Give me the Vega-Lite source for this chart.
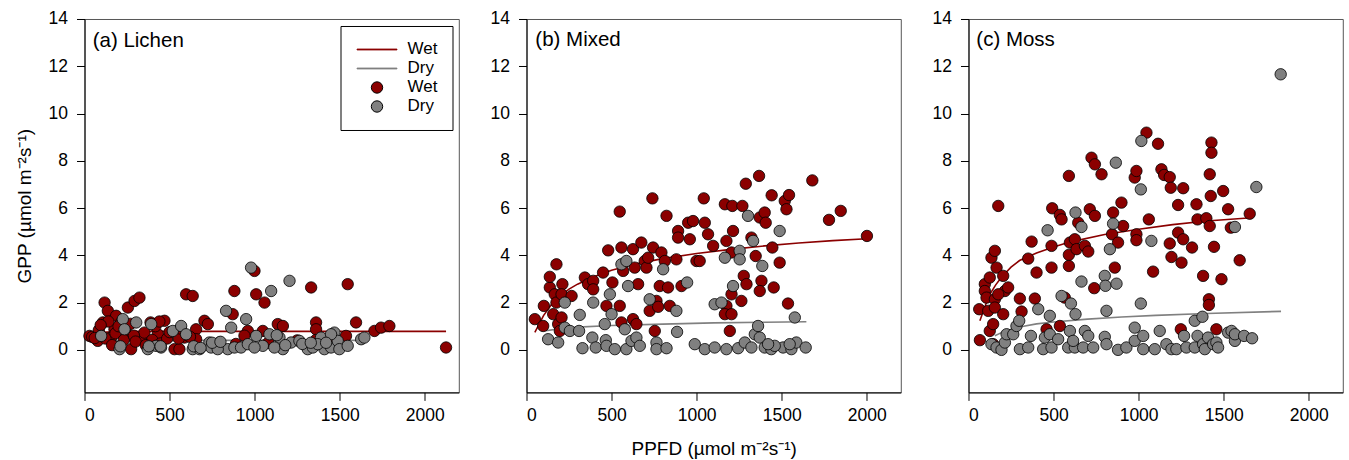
{
"$schema": "https://vega.github.io/schema/vega-lite/v6.json",
"padding": {"left": 14.5, "top": 9, "right": 0, "bottom": 0},
"spacing": 30,
"config": {
  "font": "Liberation Sans",
  "view": {"stroke": "#555", "strokeWidth": 1},
  "axis": {"grid": false, "domainColor": "black", "tickColor": "black", "labelColor": "black", "titleColor": "black", "labelFont": "Liberation Sans", "titleFont": "Liberation Sans", "labelFontSize": 17.5, "titleFontSize": 19, "titleFontWeight": "normal", "tickSize": 8, "format": "d"},
  "axisY": {"labelPadding": 9, "titlePadding": 14},
  "axisX": {"labelPadding": 6, "titlePadding": 16},
  "legend": {"title": null, "orient": "none", "legendX": 256, "legendY": 7, "strokeColor": "black", "fillColor": "white", "padding": 15, "labelFontSize": 17, "labelFont": "Liberation Sans", "labelColor": "black", "symbolSize": 130, "symbolOffset": 13, "labelOffset": 22, "rowPadding": 1, "symbolStrokeWidth": 1}
},
"datasets": {
"pts": [
{"panel":"a","key":"Wet","ppfd":29,"gpp":0.59},{"panel":"a","key":"Wet","ppfd":118,"gpp":2.0},{"panel":"a","key":"Wet","ppfd":137,"gpp":1.65},{"panel":"a","key":"Wet","ppfd":108,"gpp":1.16},{"panel":"a","key":"Wet","ppfd":78,"gpp":0.38},{"panel":"a","key":"Wet","ppfd":157,"gpp":0.52},{"panel":"a","key":"Wet","ppfd":186,"gpp":1.44},{"panel":"a","key":"Wet","ppfd":215,"gpp":1.16},{"panel":"a","key":"Wet","ppfd":255,"gpp":1.79},{"panel":"a","key":"Wet","ppfd":294,"gpp":2.07},{"panel":"a","key":"Wet","ppfd":323,"gpp":2.21},{"panel":"a","key":"Wet","ppfd":274,"gpp":0.03},{"panel":"a","key":"Wet","ppfd":333,"gpp":0.45},{"panel":"a","key":"Wet","ppfd":176,"gpp":0.87},{"panel":"a","key":"Wet","ppfd":235,"gpp":0.66},{"panel":"a","key":"Wet","ppfd":352,"gpp":0.73},{"panel":"a","key":"Wet","ppfd":411,"gpp":1.09},{"panel":"a","key":"Wet","ppfd":470,"gpp":1.23},{"panel":"a","key":"Wet","ppfd":431,"gpp":0.66},{"panel":"a","key":"Wet","ppfd":529,"gpp":0.03},{"panel":"a","key":"Wet","ppfd":558,"gpp":0.03},{"panel":"a","key":"Wet","ppfd":587,"gpp":0.52},{"panel":"a","key":"Wet","ppfd":597,"gpp":2.35},{"panel":"a","key":"Wet","ppfd":636,"gpp":2.28},{"panel":"a","key":"Wet","ppfd":656,"gpp":0.87},{"panel":"a","key":"Wet","ppfd":656,"gpp":0.45},{"panel":"a","key":"Wet","ppfd":705,"gpp":1.23},{"panel":"a","key":"Wet","ppfd":725,"gpp":1.09},{"panel":"a","key":"Wet","ppfd":871,"gpp":1.51},{"panel":"a","key":"Wet","ppfd":881,"gpp":2.49},{"panel":"a","key":"Wet","ppfd":960,"gpp":0.8},{"panel":"a","key":"Wet","ppfd":999,"gpp":3.34},{"panel":"a","key":"Wet","ppfd":1009,"gpp":2.35},{"panel":"a","key":"Wet","ppfd":1058,"gpp":2.0},{"panel":"a","key":"Wet","ppfd":1048,"gpp":0.8},{"panel":"a","key":"Wet","ppfd":1136,"gpp":1.09},{"panel":"a","key":"Wet","ppfd":1166,"gpp":1.01},{"panel":"a","key":"Wet","ppfd":1332,"gpp":2.64},{"panel":"a","key":"Wet","ppfd":1361,"gpp":1.16},{"panel":"a","key":"Wet","ppfd":1361,"gpp":0.87},{"panel":"a","key":"Wet","ppfd":1537,"gpp":0.59},{"panel":"a","key":"Wet","ppfd":1547,"gpp":2.78},{"panel":"a","key":"Wet","ppfd":1596,"gpp":1.16},{"panel":"a","key":"Wet","ppfd":1704,"gpp":0.8},{"panel":"a","key":"Wet","ppfd":1743,"gpp":0.94},{"panel":"a","key":"Wet","ppfd":1792,"gpp":1.01},{"panel":"a","key":"Wet","ppfd":2125,"gpp":0.1},{"panel":"a","key":"Wet","ppfd":45,"gpp":0.55},{"panel":"a","key":"Wet","ppfd":84,"gpp":0.83},{"panel":"a","key":"Wet","ppfd":123,"gpp":0.48},{"panel":"a","key":"Wet","ppfd":162,"gpp":0.2},{"panel":"a","key":"Wet","ppfd":182,"gpp":0.7},{"panel":"a","key":"Wet","ppfd":231,"gpp":0.42},{"panel":"a","key":"Wet","ppfd":241,"gpp":0.9},{"panel":"a","key":"Wet","ppfd":290,"gpp":0.6},{"panel":"a","key":"Wet","ppfd":388,"gpp":1.16},{"panel":"a","key":"Wet","ppfd":398,"gpp":0.42},{"panel":"a","key":"Wet","ppfd":417,"gpp":1.0},{"panel":"a","key":"Wet","ppfd":447,"gpp":0.27},{"panel":"a","key":"Wet","ppfd":486,"gpp":0.48},{"panel":"a","key":"Wet","ppfd":554,"gpp":0.48},{"panel":"a","key":"Wet","ppfd":564,"gpp":0.9},{"panel":"a","key":"Wet","ppfd":200,"gpp":1.0},{"panel":"a","key":"Wet","ppfd":140,"gpp":1.2},{"panel":"a","key":"Wet","ppfd":60,"gpp":0.5},{"panel":"a","key":"Wet","ppfd":95,"gpp":1.05},{"panel":"a","key":"Wet","ppfd":270,"gpp":1.1},{"panel":"a","key":"Wet","ppfd":300,"gpp":0.35},{"panel":"a","key":"Wet","ppfd":360,"gpp":0.2},{"panel":"a","key":"Wet","ppfd":440,"gpp":1.2},{"panel":"a","key":"Wet","ppfd":500,"gpp":0.75},{"panel":"a","key":"Wet","ppfd":620,"gpp":0.55},{"panel":"a","key":"Wet","ppfd":890,"gpp":0.25},{"panel":"a","key":"Wet","ppfd":1080,"gpp":0.3},{"panel":"a","key":"Wet","ppfd":1250,"gpp":0.4},{"panel":"a","key":"Wet","ppfd":1450,"gpp":0.5},{"panel":"a","key":"Wet","ppfd":1360,"gpp":0.42},{"panel":"a","key":"Wet","ppfd":940,"gpp":0.6},
{"panel":"a","key":"Dry","ppfd":98,"gpp":0.59},{"panel":"a","key":"Dry","ppfd":206,"gpp":0.03},{"panel":"a","key":"Dry","ppfd":225,"gpp":1.3},{"panel":"a","key":"Dry","ppfd":235,"gpp":0.87},{"panel":"a","key":"Dry","ppfd":304,"gpp":1.16},{"panel":"a","key":"Dry","ppfd":372,"gpp":0.03},{"panel":"a","key":"Dry","ppfd":392,"gpp":1.09},{"panel":"a","key":"Dry","ppfd":421,"gpp":0.17},{"panel":"a","key":"Dry","ppfd":450,"gpp":0.1},{"panel":"a","key":"Dry","ppfd":519,"gpp":0.8},{"panel":"a","key":"Dry","ppfd":568,"gpp":1.01},{"panel":"a","key":"Dry","ppfd":597,"gpp":0.66},{"panel":"a","key":"Dry","ppfd":636,"gpp":0.03},{"panel":"a","key":"Dry","ppfd":676,"gpp":0.03},{"panel":"a","key":"Dry","ppfd":734,"gpp":0.31},{"panel":"a","key":"Dry","ppfd":793,"gpp":0.31},{"panel":"a","key":"Dry","ppfd":832,"gpp":1.65},{"panel":"a","key":"Dry","ppfd":862,"gpp":0.94},{"panel":"a","key":"Dry","ppfd":842,"gpp":0.03},{"panel":"a","key":"Dry","ppfd":881,"gpp":0.1},{"panel":"a","key":"Dry","ppfd":920,"gpp":0.1},{"panel":"a","key":"Dry","ppfd":950,"gpp":1.3},{"panel":"a","key":"Dry","ppfd":979,"gpp":3.48},{"panel":"a","key":"Dry","ppfd":1009,"gpp":0.59},{"panel":"a","key":"Dry","ppfd":1048,"gpp":0.17},{"panel":"a","key":"Dry","ppfd":1087,"gpp":0.66},{"panel":"a","key":"Dry","ppfd":1097,"gpp":2.49},{"panel":"a","key":"Dry","ppfd":1146,"gpp":0.52},{"panel":"a","key":"Dry","ppfd":1166,"gpp":0.03},{"panel":"a","key":"Dry","ppfd":1205,"gpp":2.92},{"panel":"a","key":"Dry","ppfd":1214,"gpp":0.31},{"panel":"a","key":"Dry","ppfd":1263,"gpp":0.38},{"panel":"a","key":"Dry","ppfd":1302,"gpp":0.17},{"panel":"a","key":"Dry","ppfd":1312,"gpp":0.03},{"panel":"a","key":"Dry","ppfd":1342,"gpp":0.1},{"panel":"a","key":"Dry","ppfd":1390,"gpp":0.52},{"panel":"a","key":"Dry","ppfd":1410,"gpp":0.03},{"panel":"a","key":"Dry","ppfd":1449,"gpp":0.1},{"panel":"a","key":"Dry","ppfd":1469,"gpp":0.73},{"panel":"a","key":"Dry","ppfd":1488,"gpp":0.38},{"panel":"a","key":"Dry","ppfd":1498,"gpp":0.03},{"panel":"a","key":"Dry","ppfd":1547,"gpp":0.17},{"panel":"a","key":"Dry","ppfd":1626,"gpp":0.45},{"panel":"a","key":"Dry","ppfd":1645,"gpp":0.52},{"panel":"a","key":"Dry","ppfd":744,"gpp":0.1},{"panel":"a","key":"Dry","ppfd":783,"gpp":0.03},{"panel":"a","key":"Dry","ppfd":960,"gpp":0.24},{"panel":"a","key":"Dry","ppfd":999,"gpp":0.1},{"panel":"a","key":"Dry","ppfd":1116,"gpp":0.1},{"panel":"a","key":"Dry","ppfd":1371,"gpp":0.24},{"panel":"a","key":"Dry","ppfd":1449,"gpp":0.66},{"panel":"a","key":"Dry","ppfd":211,"gpp":0.15},{"panel":"a","key":"Dry","ppfd":378,"gpp":0.15},{"panel":"a","key":"Dry","ppfd":447,"gpp":0.15},{"panel":"a","key":"Dry","ppfd":642,"gpp":0.15},{"panel":"a","key":"Dry","ppfd":682,"gpp":0.08},{"panel":"a","key":"Dry","ppfd":750,"gpp":0.3},{"panel":"a","key":"Dry","ppfd":799,"gpp":0.34},{"panel":"a","key":"Dry","ppfd":1130,"gpp":0.62},{"panel":"a","key":"Dry","ppfd":1280,"gpp":0.25},{"panel":"a","key":"Dry","ppfd":1330,"gpp":0.3},{"panel":"a","key":"Dry","ppfd":1180,"gpp":0.2},{"panel":"a","key":"Dry","ppfd":1420,"gpp":0.3},
{"panel":"b","key":"Wet","ppfd":49,"gpp":1.3},{"panel":"b","key":"Wet","ppfd":98,"gpp":1.01},{"panel":"b","key":"Wet","ppfd":102,"gpp":1.86},{"panel":"b","key":"Wet","ppfd":137,"gpp":2.64},{"panel":"b","key":"Wet","ppfd":137,"gpp":3.09},{"panel":"b","key":"Wet","ppfd":176,"gpp":3.62},{"panel":"b","key":"Wet","ppfd":166,"gpp":2.35},{"panel":"b","key":"Wet","ppfd":157,"gpp":1.51},{"panel":"b","key":"Wet","ppfd":186,"gpp":1.09},{"panel":"b","key":"Wet","ppfd":196,"gpp":0.8},{"panel":"b","key":"Wet","ppfd":206,"gpp":1.37},{"panel":"b","key":"Wet","ppfd":176,"gpp":2.0},{"panel":"b","key":"Wet","ppfd":211,"gpp":2.78},{"panel":"b","key":"Wet","ppfd":206,"gpp":2.35},{"panel":"b","key":"Wet","ppfd":265,"gpp":2.28},{"panel":"b","key":"Wet","ppfd":343,"gpp":3.06},{"panel":"b","key":"Wet","ppfd":362,"gpp":2.78},{"panel":"b","key":"Wet","ppfd":392,"gpp":2.92},{"panel":"b","key":"Wet","ppfd":392,"gpp":2.56},{"panel":"b","key":"Wet","ppfd":450,"gpp":3.27},{"panel":"b","key":"Wet","ppfd":470,"gpp":1.86},{"panel":"b","key":"Wet","ppfd":480,"gpp":4.21},{"panel":"b","key":"Wet","ppfd":505,"gpp":2.85},{"panel":"b","key":"Wet","ppfd":548,"gpp":5.85},{"panel":"b","key":"Wet","ppfd":548,"gpp":1.86},{"panel":"b","key":"Wet","ppfd":558,"gpp":4.33},{"panel":"b","key":"Wet","ppfd":568,"gpp":3.34},{"panel":"b","key":"Wet","ppfd":558,"gpp":1.16},{"panel":"b","key":"Wet","ppfd":626,"gpp":4.26},{"panel":"b","key":"Wet","ppfd":636,"gpp":3.48},{"panel":"b","key":"Wet","ppfd":626,"gpp":1.3},{"panel":"b","key":"Wet","ppfd":646,"gpp":1.09},{"panel":"b","key":"Wet","ppfd":656,"gpp":2.78},{"panel":"b","key":"Wet","ppfd":675,"gpp":4.54},{"panel":"b","key":"Wet","ppfd":695,"gpp":3.76},{"panel":"b","key":"Wet","ppfd":705,"gpp":3.48},{"panel":"b","key":"Wet","ppfd":715,"gpp":3.9},{"panel":"b","key":"Wet","ppfd":740,"gpp":6.41},{"panel":"b","key":"Wet","ppfd":744,"gpp":4.33},{"panel":"b","key":"Wet","ppfd":724,"gpp":1.65},{"panel":"b","key":"Wet","ppfd":754,"gpp":0.8},{"panel":"b","key":"Wet","ppfd":764,"gpp":2.07},{"panel":"b","key":"Wet","ppfd":774,"gpp":1.82},{"panel":"b","key":"Wet","ppfd":783,"gpp":2.7},{"panel":"b","key":"Wet","ppfd":793,"gpp":4.12},{"panel":"b","key":"Wet","ppfd":813,"gpp":3.76},{"panel":"b","key":"Wet","ppfd":823,"gpp":5.67},{"panel":"b","key":"Wet","ppfd":832,"gpp":2.64},{"panel":"b","key":"Wet","ppfd":842,"gpp":1.86},{"panel":"b","key":"Wet","ppfd":881,"gpp":3.83},{"panel":"b","key":"Wet","ppfd":891,"gpp":5.03},{"panel":"b","key":"Wet","ppfd":891,"gpp":4.75},{"panel":"b","key":"Wet","ppfd":911,"gpp":2.7},{"panel":"b","key":"Wet","ppfd":950,"gpp":5.38},{"panel":"b","key":"Wet","ppfd":960,"gpp":4.68},{"panel":"b","key":"Wet","ppfd":979,"gpp":5.45},{"panel":"b","key":"Wet","ppfd":999,"gpp":3.76},{"panel":"b","key":"Wet","ppfd":1018,"gpp":3.76},{"panel":"b","key":"Wet","ppfd":1042,"gpp":6.41},{"panel":"b","key":"Wet","ppfd":1048,"gpp":5.38},{"panel":"b","key":"Wet","ppfd":1067,"gpp":4.89},{"panel":"b","key":"Wet","ppfd":1097,"gpp":4.4},{"panel":"b","key":"Wet","ppfd":1166,"gpp":6.16},{"panel":"b","key":"Wet","ppfd":1175,"gpp":4.61},{"panel":"b","key":"Wet","ppfd":1175,"gpp":1.86},{"panel":"b","key":"Wet","ppfd":1166,"gpp":1.51},{"panel":"b","key":"Wet","ppfd":1195,"gpp":0.8},{"panel":"b","key":"Wet","ppfd":1205,"gpp":1.51},{"panel":"b","key":"Wet","ppfd":1210,"gpp":6.09},{"panel":"b","key":"Wet","ppfd":1214,"gpp":5.03},{"panel":"b","key":"Wet","ppfd":1205,"gpp":4.12},{"panel":"b","key":"Wet","ppfd":1205,"gpp":2.35},{"panel":"b","key":"Wet","ppfd":1263,"gpp":2.07},{"panel":"b","key":"Wet","ppfd":1269,"gpp":6.09},{"panel":"b","key":"Wet","ppfd":1277,"gpp":3.13},{"panel":"b","key":"Wet","ppfd":1289,"gpp":7.03},{"panel":"b","key":"Wet","ppfd":1293,"gpp":2.78},{"panel":"b","key":"Wet","ppfd":1322,"gpp":4.75},{"panel":"b","key":"Wet","ppfd":1347,"gpp":3.97},{"panel":"b","key":"Wet","ppfd":1367,"gpp":7.36},{"panel":"b","key":"Wet","ppfd":1371,"gpp":5.6},{"panel":"b","key":"Wet","ppfd":1381,"gpp":2.92},{"panel":"b","key":"Wet","ppfd":1371,"gpp":2.49},{"panel":"b","key":"Wet","ppfd":1400,"gpp":5.81},{"panel":"b","key":"Wet","ppfd":1406,"gpp":5.38},{"panel":"b","key":"Wet","ppfd":1441,"gpp":6.54},{"panel":"b","key":"Wet","ppfd":1445,"gpp":4.33},{"panel":"b","key":"Wet","ppfd":1453,"gpp":2.64},{"panel":"b","key":"Wet","ppfd":1488,"gpp":3.69},{"panel":"b","key":"Wet","ppfd":1518,"gpp":6.3},{"panel":"b","key":"Wet","ppfd":1528,"gpp":5.95},{"panel":"b","key":"Wet","ppfd":1543,"gpp":6.55},{"panel":"b","key":"Wet","ppfd":1537,"gpp":1.96},{"panel":"b","key":"Wet","ppfd":1680,"gpp":7.17},{"panel":"b","key":"Wet","ppfd":1778,"gpp":5.5},{"panel":"b","key":"Wet","ppfd":1847,"gpp":5.88},{"panel":"b","key":"Wet","ppfd":2001,"gpp":4.82},
{"panel":"b","key":"Dry","ppfd":127,"gpp":0.45},{"panel":"b","key":"Dry","ppfd":186,"gpp":0.31},{"panel":"b","key":"Dry","ppfd":225,"gpp":2.0},{"panel":"b","key":"Dry","ppfd":225,"gpp":0.94},{"panel":"b","key":"Dry","ppfd":255,"gpp":0.8},{"panel":"b","key":"Dry","ppfd":309,"gpp":0.8},{"panel":"b","key":"Dry","ppfd":313,"gpp":1.48},{"panel":"b","key":"Dry","ppfd":329,"gpp":0.07},{"panel":"b","key":"Dry","ppfd":387,"gpp":0.52},{"panel":"b","key":"Dry","ppfd":392,"gpp":2.0},{"panel":"b","key":"Dry","ppfd":407,"gpp":0.1},{"panel":"b","key":"Dry","ppfd":460,"gpp":1.09},{"panel":"b","key":"Dry","ppfd":466,"gpp":0.41},{"panel":"b","key":"Dry","ppfd":470,"gpp":0.17},{"panel":"b","key":"Dry","ppfd":490,"gpp":2.35},{"panel":"b","key":"Dry","ppfd":500,"gpp":1.51},{"panel":"b","key":"Dry","ppfd":519,"gpp":0.03},{"panel":"b","key":"Dry","ppfd":558,"gpp":3.62},{"panel":"b","key":"Dry","ppfd":587,"gpp":3.76},{"panel":"b","key":"Dry","ppfd":578,"gpp":0.87},{"panel":"b","key":"Dry","ppfd":587,"gpp":0.03},{"panel":"b","key":"Dry","ppfd":597,"gpp":2.7},{"panel":"b","key":"Dry","ppfd":617,"gpp":0.38},{"panel":"b","key":"Dry","ppfd":646,"gpp":0.52},{"panel":"b","key":"Dry","ppfd":666,"gpp":0.17},{"panel":"b","key":"Dry","ppfd":724,"gpp":2.14},{"panel":"b","key":"Dry","ppfd":764,"gpp":0.31},{"panel":"b","key":"Dry","ppfd":764,"gpp":0.03},{"panel":"b","key":"Dry","ppfd":803,"gpp":3.41},{"panel":"b","key":"Dry","ppfd":823,"gpp":0.07},{"panel":"b","key":"Dry","ppfd":881,"gpp":1.65},{"panel":"b","key":"Dry","ppfd":885,"gpp":0.76},{"panel":"b","key":"Dry","ppfd":944,"gpp":2.85},{"panel":"b","key":"Dry","ppfd":989,"gpp":0.24},{"panel":"b","key":"Dry","ppfd":1048,"gpp":0.03},{"panel":"b","key":"Dry","ppfd":1106,"gpp":0.1},{"panel":"b","key":"Dry","ppfd":1106,"gpp":1.93},{"panel":"b","key":"Dry","ppfd":1146,"gpp":2.0},{"panel":"b","key":"Dry","ppfd":1166,"gpp":3.9},{"panel":"b","key":"Dry","ppfd":1175,"gpp":0.03},{"panel":"b","key":"Dry","ppfd":1214,"gpp":2.7},{"panel":"b","key":"Dry","ppfd":1244,"gpp":0.07},{"panel":"b","key":"Dry","ppfd":1253,"gpp":4.19},{"panel":"b","key":"Dry","ppfd":1253,"gpp":3.83},{"panel":"b","key":"Dry","ppfd":1283,"gpp":0.31},{"panel":"b","key":"Dry","ppfd":1302,"gpp":5.67},{"panel":"b","key":"Dry","ppfd":1322,"gpp":0.1},{"panel":"b","key":"Dry","ppfd":1332,"gpp":4.61},{"panel":"b","key":"Dry","ppfd":1342,"gpp":0.66},{"panel":"b","key":"Dry","ppfd":1361,"gpp":1.01},{"panel":"b","key":"Dry","ppfd":1371,"gpp":0.52},{"panel":"b","key":"Dry","ppfd":1386,"gpp":3.55},{"panel":"b","key":"Dry","ppfd":1400,"gpp":0.1},{"panel":"b","key":"Dry","ppfd":1439,"gpp":0.03},{"panel":"b","key":"Dry","ppfd":1488,"gpp":5.03},{"panel":"b","key":"Dry","ppfd":1508,"gpp":0.1},{"panel":"b","key":"Dry","ppfd":1557,"gpp":0.03},{"panel":"b","key":"Dry","ppfd":1577,"gpp":1.37},{"panel":"b","key":"Dry","ppfd":1586,"gpp":0.31},{"panel":"b","key":"Dry","ppfd":1641,"gpp":0.1},{"panel":"b","key":"Dry","ppfd":1459,"gpp":0.17},{"panel":"b","key":"Dry","ppfd":1547,"gpp":0.24},{"panel":"b","key":"Dry","ppfd":1420,"gpp":0.24},
{"panel":"c","key":"Wet","ppfd":63,"gpp":1.72},{"panel":"c","key":"Wet","ppfd":67,"gpp":0.41},{"panel":"c","key":"Wet","ppfd":96,"gpp":2.78},{"panel":"c","key":"Wet","ppfd":96,"gpp":2.49},{"panel":"c","key":"Wet","ppfd":106,"gpp":2.21},{"panel":"c","key":"Wet","ppfd":116,"gpp":1.65},{"panel":"c","key":"Wet","ppfd":125,"gpp":3.06},{"panel":"c","key":"Wet","ppfd":125,"gpp":0.8},{"panel":"c","key":"Wet","ppfd":135,"gpp":3.9},{"panel":"c","key":"Wet","ppfd":155,"gpp":4.19},{"panel":"c","key":"Wet","ppfd":145,"gpp":0.24},{"panel":"c","key":"Wet","ppfd":155,"gpp":2.14},{"panel":"c","key":"Wet","ppfd":165,"gpp":3.48},{"panel":"c","key":"Wet","ppfd":175,"gpp":6.09},{"panel":"c","key":"Wet","ppfd":155,"gpp":1.79},{"panel":"c","key":"Wet","ppfd":145,"gpp":1.09},{"panel":"c","key":"Wet","ppfd":204,"gpp":3.13},{"panel":"c","key":"Wet","ppfd":204,"gpp":1.51},{"panel":"c","key":"Wet","ppfd":214,"gpp":2.49},{"panel":"c","key":"Wet","ppfd":233,"gpp":2.64},{"panel":"c","key":"Wet","ppfd":175,"gpp":2.35},{"panel":"c","key":"Wet","ppfd":302,"gpp":2.17},{"panel":"c","key":"Wet","ppfd":312,"gpp":1.62},{"panel":"c","key":"Wet","ppfd":351,"gpp":3.86},{"panel":"c","key":"Wet","ppfd":371,"gpp":4.58},{"panel":"c","key":"Wet","ppfd":390,"gpp":2.17},{"panel":"c","key":"Wet","ppfd":400,"gpp":3.27},{"panel":"c","key":"Wet","ppfd":459,"gpp":0.87},{"panel":"c","key":"Wet","ppfd":488,"gpp":3.48},{"panel":"c","key":"Wet","ppfd":488,"gpp":4.4},{"panel":"c","key":"Wet","ppfd":492,"gpp":5.99},{"panel":"c","key":"Wet","ppfd":537,"gpp":5.71},{"panel":"c","key":"Wet","ppfd":547,"gpp":5.52},{"panel":"c","key":"Wet","ppfd":537,"gpp":1.01},{"panel":"c","key":"Wet","ppfd":566,"gpp":2.21},{"panel":"c","key":"Wet","ppfd":590,"gpp":7.36},{"panel":"c","key":"Wet","ppfd":596,"gpp":4.54},{"panel":"c","key":"Wet","ppfd":590,"gpp":4.02},{"panel":"c","key":"Wet","ppfd":590,"gpp":3.55},{"panel":"c","key":"Wet","ppfd":625,"gpp":4.68},{"panel":"c","key":"Wet","ppfd":635,"gpp":4.26},{"panel":"c","key":"Wet","ppfd":645,"gpp":5.38},{"panel":"c","key":"Wet","ppfd":684,"gpp":4.4},{"panel":"c","key":"Wet","ppfd":704,"gpp":4.16},{"panel":"c","key":"Wet","ppfd":713,"gpp":5.95},{"panel":"c","key":"Wet","ppfd":723,"gpp":8.13},{"panel":"c","key":"Wet","ppfd":743,"gpp":7.85},{"panel":"c","key":"Wet","ppfd":743,"gpp":5.67},{"panel":"c","key":"Wet","ppfd":739,"gpp":2.61},{"panel":"c","key":"Wet","ppfd":782,"gpp":7.43},{"panel":"c","key":"Wet","ppfd":850,"gpp":5.81},{"panel":"c","key":"Wet","ppfd":844,"gpp":4.89},{"panel":"c","key":"Wet","ppfd":860,"gpp":3.48},{"panel":"c","key":"Wet","ppfd":879,"gpp":4.54},{"panel":"c","key":"Wet","ppfd":899,"gpp":6.23},{"panel":"c","key":"Wet","ppfd":909,"gpp":5.24},{"panel":"c","key":"Wet","ppfd":977,"gpp":7.29},{"panel":"c","key":"Wet","ppfd":987,"gpp":7.57},{"panel":"c","key":"Wet","ppfd":987,"gpp":4.89},{"panel":"c","key":"Wet","ppfd":987,"gpp":4.64},{"panel":"c","key":"Wet","ppfd":1046,"gpp":9.19},{"panel":"c","key":"Wet","ppfd":1060,"gpp":5.52},{"panel":"c","key":"Wet","ppfd":1085,"gpp":3.31},{"panel":"c","key":"Wet","ppfd":1114,"gpp":8.72},{"panel":"c","key":"Wet","ppfd":1134,"gpp":7.64},{"panel":"c","key":"Wet","ppfd":1150,"gpp":7.4},{"panel":"c","key":"Wet","ppfd":1183,"gpp":7.31},{"panel":"c","key":"Wet","ppfd":1189,"gpp":6.86},{"panel":"c","key":"Wet","ppfd":1183,"gpp":4.5},{"panel":"c","key":"Wet","ppfd":1193,"gpp":3.93},{"panel":"c","key":"Wet","ppfd":1232,"gpp":4.96},{"panel":"c","key":"Wet","ppfd":1232,"gpp":6.13},{"panel":"c","key":"Wet","ppfd":1252,"gpp":3.69},{"panel":"c","key":"Wet","ppfd":1248,"gpp":0.87},{"panel":"c","key":"Wet","ppfd":1262,"gpp":4.68},{"panel":"c","key":"Wet","ppfd":1262,"gpp":6.84},{"panel":"c","key":"Wet","ppfd":1314,"gpp":4.33},{"panel":"c","key":"Wet","ppfd":1340,"gpp":6.16},{"panel":"c","key":"Wet","ppfd":1346,"gpp":5.52},{"panel":"c","key":"Wet","ppfd":1379,"gpp":3.13},{"panel":"c","key":"Wet","ppfd":1398,"gpp":5.57},{"panel":"c","key":"Wet","ppfd":1413,"gpp":2.14},{"panel":"c","key":"Wet","ppfd":1413,"gpp":1.9},{"panel":"c","key":"Wet","ppfd":1418,"gpp":7.43},{"panel":"c","key":"Wet","ppfd":1428,"gpp":8.77},{"panel":"c","key":"Wet","ppfd":1428,"gpp":8.34},{"panel":"c","key":"Wet","ppfd":1424,"gpp":6.51},{"panel":"c","key":"Wet","ppfd":1418,"gpp":5.24},{"panel":"c","key":"Wet","ppfd":1443,"gpp":4.36},{"panel":"c","key":"Wet","ppfd":1457,"gpp":0.87},{"panel":"c","key":"Wet","ppfd":1487,"gpp":2.99},{"panel":"c","key":"Wet","ppfd":1497,"gpp":6.72},{"panel":"c","key":"Wet","ppfd":1526,"gpp":5.95},{"panel":"c","key":"Wet","ppfd":1542,"gpp":5.17},{"panel":"c","key":"Wet","ppfd":1594,"gpp":3.79},{"panel":"c","key":"Wet","ppfd":1653,"gpp":5.76},
{"panel":"c","key":"Dry","ppfd":135,"gpp":0.24},{"panel":"c","key":"Dry","ppfd":165,"gpp":0.1},{"panel":"c","key":"Dry","ppfd":194,"gpp":0.0},{"panel":"c","key":"Dry","ppfd":214,"gpp":0.31},{"panel":"c","key":"Dry","ppfd":224,"gpp":0.66},{"panel":"c","key":"Dry","ppfd":263,"gpp":0.66},{"panel":"c","key":"Dry","ppfd":282,"gpp":1.01},{"panel":"c","key":"Dry","ppfd":298,"gpp":1.23},{"panel":"c","key":"Dry","ppfd":302,"gpp":0.03},{"panel":"c","key":"Dry","ppfd":351,"gpp":0.1},{"panel":"c","key":"Dry","ppfd":367,"gpp":0.59},{"panel":"c","key":"Dry","ppfd":410,"gpp":1.72},{"panel":"c","key":"Dry","ppfd":439,"gpp":0.03},{"panel":"c","key":"Dry","ppfd":449,"gpp":0.52},{"panel":"c","key":"Dry","ppfd":465,"gpp":5.06},{"panel":"c","key":"Dry","ppfd":478,"gpp":1.44},{"panel":"c","key":"Dry","ppfd":478,"gpp":0.66},{"panel":"c","key":"Dry","ppfd":488,"gpp":0.1},{"panel":"c","key":"Dry","ppfd":527,"gpp":0.45},{"panel":"c","key":"Dry","ppfd":547,"gpp":2.28},{"panel":"c","key":"Dry","ppfd":586,"gpp":0.1},{"panel":"c","key":"Dry","ppfd":602,"gpp":1.96},{"panel":"c","key":"Dry","ppfd":596,"gpp":0.8},{"panel":"c","key":"Dry","ppfd":625,"gpp":0.1},{"panel":"c","key":"Dry","ppfd":615,"gpp":0.38},{"panel":"c","key":"Dry","ppfd":629,"gpp":5.81},{"panel":"c","key":"Dry","ppfd":629,"gpp":1.51},{"panel":"c","key":"Dry","ppfd":664,"gpp":5.2},{"panel":"c","key":"Dry","ppfd":664,"gpp":2.89},{"panel":"c","key":"Dry","ppfd":674,"gpp":0.1},{"panel":"c","key":"Dry","ppfd":684,"gpp":0.8},{"panel":"c","key":"Dry","ppfd":704,"gpp":0.59},{"panel":"c","key":"Dry","ppfd":733,"gpp":0.1},{"panel":"c","key":"Dry","ppfd":801,"gpp":3.13},{"panel":"c","key":"Dry","ppfd":805,"gpp":2.71},{"panel":"c","key":"Dry","ppfd":801,"gpp":0.55},{"panel":"c","key":"Dry","ppfd":811,"gpp":1.65},{"panel":"c","key":"Dry","ppfd":811,"gpp":0.24},{"panel":"c","key":"Dry","ppfd":831,"gpp":4.26},{"panel":"c","key":"Dry","ppfd":850,"gpp":5.34},{"panel":"c","key":"Dry","ppfd":870,"gpp":2.8},{"panel":"c","key":"Dry","ppfd":866,"gpp":7.92},{"panel":"c","key":"Dry","ppfd":879,"gpp":0.0},{"panel":"c","key":"Dry","ppfd":928,"gpp":0.1},{"panel":"c","key":"Dry","ppfd":977,"gpp":0.94},{"panel":"c","key":"Dry","ppfd":977,"gpp":0.38},{"panel":"c","key":"Dry","ppfd":1016,"gpp":8.84},{"panel":"c","key":"Dry","ppfd":1013,"gpp":6.79},{"panel":"c","key":"Dry","ppfd":1013,"gpp":1.96},{"panel":"c","key":"Dry","ppfd":1027,"gpp":0.59},{"panel":"c","key":"Dry","ppfd":1027,"gpp":0.03},{"panel":"c","key":"Dry","ppfd":1075,"gpp":4.61},{"panel":"c","key":"Dry","ppfd":1095,"gpp":0.03},{"panel":"c","key":"Dry","ppfd":1124,"gpp":0.8},{"panel":"c","key":"Dry","ppfd":1163,"gpp":0.24},{"panel":"c","key":"Dry","ppfd":1193,"gpp":0.03},{"panel":"c","key":"Dry","ppfd":1222,"gpp":0.03},{"panel":"c","key":"Dry","ppfd":1267,"gpp":0.59},{"panel":"c","key":"Dry","ppfd":1281,"gpp":0.1},{"panel":"c","key":"Dry","ppfd":1330,"gpp":1.23},{"panel":"c","key":"Dry","ppfd":1330,"gpp":0.1},{"panel":"c","key":"Dry","ppfd":1346,"gpp":0.59},{"panel":"c","key":"Dry","ppfd":1375,"gpp":1.4},{"panel":"c","key":"Dry","ppfd":1379,"gpp":0.24},{"panel":"c","key":"Dry","ppfd":1389,"gpp":0.03},{"panel":"c","key":"Dry","ppfd":1408,"gpp":0.52},{"panel":"c","key":"Dry","ppfd":1438,"gpp":0.24},{"panel":"c","key":"Dry","ppfd":1457,"gpp":0.31},{"panel":"c","key":"Dry","ppfd":1467,"gpp":0.1},{"panel":"c","key":"Dry","ppfd":1526,"gpp":0.73},{"panel":"c","key":"Dry","ppfd":1546,"gpp":0.8},{"panel":"c","key":"Dry","ppfd":1566,"gpp":5.2},{"panel":"c","key":"Dry","ppfd":1566,"gpp":0.38},{"panel":"c","key":"Dry","ppfd":1566,"gpp":0.66},{"panel":"c","key":"Dry","ppfd":1620,"gpp":0.59},{"panel":"c","key":"Dry","ppfd":1667,"gpp":0.49},{"panel":"c","key":"Dry","ppfd":1692,"gpp":6.89},{"panel":"c","key":"Dry","ppfd":1835,"gpp":11.66}
],
"fits": [
{"panel":"a","key":"Wet line","ppfd":30,"gpp":0.62},{"panel":"a","key":"Wet line","ppfd":60,"gpp":0.7},{"panel":"a","key":"Wet line","ppfd":100,"gpp":0.74},{"panel":"a","key":"Wet line","ppfd":200,"gpp":0.77},{"panel":"a","key":"Wet line","ppfd":400,"gpp":0.78},{"panel":"a","key":"Wet line","ppfd":1000,"gpp":0.78},{"panel":"a","key":"Wet line","ppfd":2125,"gpp":0.78},
{"panel":"a","key":"Dry line","ppfd":98,"gpp":0.36},{"panel":"a","key":"Dry line","ppfd":300,"gpp":0.39},{"panel":"a","key":"Dry line","ppfd":800,"gpp":0.4},{"panel":"a","key":"Dry line","ppfd":1645,"gpp":0.4},
{"panel":"b","key":"Wet line","ppfd":49,"gpp":0.74},{"panel":"b","key":"Wet line","ppfd":100,"gpp":1.45},{"panel":"b","key":"Wet line","ppfd":150,"gpp":1.95},{"panel":"b","key":"Wet line","ppfd":200,"gpp":2.3},{"panel":"b","key":"Wet line","ppfd":250,"gpp":2.57},{"panel":"b","key":"Wet line","ppfd":300,"gpp":2.78},{"panel":"b","key":"Wet line","ppfd":400,"gpp":3.1},{"panel":"b","key":"Wet line","ppfd":500,"gpp":3.37},{"panel":"b","key":"Wet line","ppfd":650,"gpp":3.65},{"panel":"b","key":"Wet line","ppfd":800,"gpp":3.86},{"panel":"b","key":"Wet line","ppfd":1000,"gpp":4.08},{"panel":"b","key":"Wet line","ppfd":1200,"gpp":4.25},{"panel":"b","key":"Wet line","ppfd":1400,"gpp":4.4},{"panel":"b","key":"Wet line","ppfd":1600,"gpp":4.52},{"panel":"b","key":"Wet line","ppfd":1800,"gpp":4.62},{"panel":"b","key":"Wet line","ppfd":2001,"gpp":4.7},
{"panel":"b","key":"Dry line","ppfd":113,"gpp":0.81},{"panel":"b","key":"Dry line","ppfd":200,"gpp":0.9},{"panel":"b","key":"Dry line","ppfd":300,"gpp":0.96},{"panel":"b","key":"Dry line","ppfd":500,"gpp":1.03},{"panel":"b","key":"Dry line","ppfd":800,"gpp":1.09},{"panel":"b","key":"Dry line","ppfd":1100,"gpp":1.14},{"panel":"b","key":"Dry line","ppfd":1400,"gpp":1.17},{"panel":"b","key":"Dry line","ppfd":1645,"gpp":1.19},
{"panel":"c","key":"Wet line","ppfd":67,"gpp":1.23},{"panel":"c","key":"Wet line","ppfd":100,"gpp":1.9},{"panel":"c","key":"Wet line","ppfd":130,"gpp":2.4},{"panel":"c","key":"Wet line","ppfd":160,"gpp":2.75},{"panel":"c","key":"Wet line","ppfd":194,"gpp":3.07},{"panel":"c","key":"Wet line","ppfd":250,"gpp":3.5},{"panel":"c","key":"Wet line","ppfd":300,"gpp":3.78},{"panel":"c","key":"Wet line","ppfd":400,"gpp":4.1},{"panel":"c","key":"Wet line","ppfd":500,"gpp":4.35},{"panel":"c","key":"Wet line","ppfd":600,"gpp":4.57},{"panel":"c","key":"Wet line","ppfd":800,"gpp":4.88},{"panel":"c","key":"Wet line","ppfd":1000,"gpp":5.1},{"panel":"c","key":"Wet line","ppfd":1200,"gpp":5.3},{"panel":"c","key":"Wet line","ppfd":1400,"gpp":5.45},{"panel":"c","key":"Wet line","ppfd":1643,"gpp":5.58},
{"panel":"c","key":"Dry line","ppfd":155,"gpp":0.6},{"panel":"c","key":"Dry line","ppfd":200,"gpp":0.75},{"panel":"c","key":"Dry line","ppfd":300,"gpp":0.97},{"panel":"c","key":"Dry line","ppfd":400,"gpp":1.1},{"panel":"c","key":"Dry line","ppfd":500,"gpp":1.18},{"panel":"c","key":"Dry line","ppfd":700,"gpp":1.3},{"panel":"c","key":"Dry line","ppfd":900,"gpp":1.39},{"panel":"c","key":"Dry line","ppfd":1100,"gpp":1.46},{"panel":"c","key":"Dry line","ppfd":1400,"gpp":1.54},{"panel":"c","key":"Dry line","ppfd":1837,"gpp":1.63}
],
"labels": [{"panel":"a","label":"(a) Lichen"},{"panel":"b","label":"(b) Mixed"},{"panel":"c","label":"(c) Moss"}]
},
"hconcat": [
{
 "width": 374.3, "height": 373.4,
 "layer": [
  {"data": {"name": "fits"}, "transform": [{"filter": "datum.panel == 'a'"}], "mark": {"type": "line", "strokeWidth": 1.6},
   "encoding": {
    "x": {"field": "ppfd", "type": "quantitative", "scale": {"domain": [0, 2200], "nice": false, "zero": false}, "axis": {"values": [0, 500, 1000, 1500, 2000], "title": null}},
    "y": {"field": "gpp", "type": "quantitative", "scale": {"domain": [-1.8, 14], "nice": false, "zero": false}, "axis": {"values": [0, 2, 4, 6, 8, 10, 12, 14], "title": "GPP (µmol m⁻²s⁻¹)"}},
    "stroke": {"field": "key", "type": "nominal", "scale": {"domain": ["Wet line", "Dry line", "Wet", "Dry"], "range": ["#8B0000", "#808080", "black", "black"]}, "legend": {"labelExpr": "datum.label == 'Wet line' ? 'Wet' : datum.label == 'Dry line' ? 'Dry' : datum.label"}}
   }},
  {"data": {"name": "pts"}, "transform": [{"filter": "datum.panel == 'a'"}], "mark": {"type": "point", "filled": true, "size": 130, "strokeWidth": 0.8, "opacity": 1},
   "encoding": {"x": {"field": "ppfd", "type": "quantitative"}, "y": {"field": "gpp", "type": "quantitative"},
    "color": {"field": "key", "type": "nominal", "scale": {"domain": ["Wet line", "Dry line", "Wet", "Dry"], "range": ["#8B0000", "#808080", "#8B0000", "#808080"]}, "legend": {"labelExpr": "datum.label == 'Wet line' ? 'Wet' : datum.label == 'Dry line' ? 'Dry' : datum.label"}},
    "stroke": {"field": "key", "type": "nominal", "legend": {"labelExpr": "datum.label == 'Wet line' ? 'Wet' : datum.label == 'Dry line' ? 'Dry' : datum.label"}},
    "shape": {"field": "key", "type": "nominal", "scale": {"domain": ["Wet line", "Dry line", "Wet", "Dry"], "range": ["M-3.5,-0.07H3.5V0.07H-3.5Z", "M-3.5,-0.07H3.5V0.07H-3.5Z", "circle", "circle"]}, "legend": {"labelExpr": "datum.label == 'Wet line' ? 'Wet' : datum.label == 'Dry line' ? 'Dry' : datum.label"}}
   }},
  {"data": {"name": "labels"}, "transform": [{"filter": "datum.panel == 'a'"}], "mark": {"type": "text", "align": "left", "baseline": "alphabetic", "fontSize": 20.5, "font": "Liberation Sans", "color": "black"},
   "encoding": {"x": {"datum": 48}, "y": {"datum": 12.82}, "text": {"field": "label"}}}
 ]
},
{
 "width": 374.3, "height": 373.4,
 "layer": [
  {"data": {"name": "fits"}, "transform": [{"filter": "datum.panel == 'b'"}], "mark": {"type": "line", "strokeWidth": 1.6},
   "encoding": {
    "x": {"field": "ppfd", "type": "quantitative", "scale": {"domain": [0, 2200], "nice": false, "zero": false}, "axis": {"values": [0, 500, 1000, 1500, 2000], "title": "PPFD (µmol m⁻²s⁻¹)"}},
    "y": {"field": "gpp", "type": "quantitative", "scale": {"domain": [-1.8, 14], "nice": false, "zero": false}, "axis": {"values": [0, 2, 4, 6, 8, 10, 12, 14], "title": null}},
    "stroke": {"field": "key", "type": "nominal"}
   }},
  {"data": {"name": "pts"}, "transform": [{"filter": "datum.panel == 'b'"}], "mark": {"type": "point", "filled": true, "size": 130, "strokeWidth": 0.8, "opacity": 1},
   "encoding": {"x": {"field": "ppfd", "type": "quantitative"}, "y": {"field": "gpp", "type": "quantitative"}, "color": {"field": "key", "type": "nominal"}, "stroke": {"field": "key", "type": "nominal"}, "shape": {"field": "key", "type": "nominal"}}},
  {"data": {"name": "labels"}, "transform": [{"filter": "datum.panel == 'b'"}], "mark": {"type": "text", "align": "left", "baseline": "alphabetic", "fontSize": 20.5, "font": "Liberation Sans", "color": "black"},
   "encoding": {"x": {"datum": 52}, "y": {"datum": 12.86}, "text": {"field": "label"}}}
 ]
},
{
 "width": 374.3, "height": 373.4,
 "layer": [
  {"data": {"name": "fits"}, "transform": [{"filter": "datum.panel == 'c'"}], "mark": {"type": "line", "strokeWidth": 1.6},
   "encoding": {
    "x": {"field": "ppfd", "type": "quantitative", "scale": {"domain": [0, 2200], "nice": false, "zero": false}, "axis": {"values": [0, 500, 1000, 1500, 2000], "title": null}},
    "y": {"field": "gpp", "type": "quantitative", "scale": {"domain": [-1.8, 14], "nice": false, "zero": false}, "axis": {"values": [0, 2, 4, 6, 8, 10, 12, 14], "title": null}},
    "stroke": {"field": "key", "type": "nominal"}
   }},
  {"data": {"name": "pts"}, "transform": [{"filter": "datum.panel == 'c'"}], "mark": {"type": "point", "filled": true, "size": 130, "strokeWidth": 0.8, "opacity": 1},
   "encoding": {"x": {"field": "ppfd", "type": "quantitative"}, "y": {"field": "gpp", "type": "quantitative"}, "color": {"field": "key", "type": "nominal"}, "stroke": {"field": "key", "type": "nominal"}, "shape": {"field": "key", "type": "nominal"}}},
  {"data": {"name": "labels"}, "transform": [{"filter": "datum.panel == 'c'"}], "mark": {"type": "text", "align": "left", "baseline": "alphabetic", "fontSize": 20.5, "font": "Liberation Sans", "color": "black"},
   "encoding": {"x": {"datum": 46}, "y": {"datum": 12.86}, "text": {"field": "label"}}}
 ]
}
]
}
